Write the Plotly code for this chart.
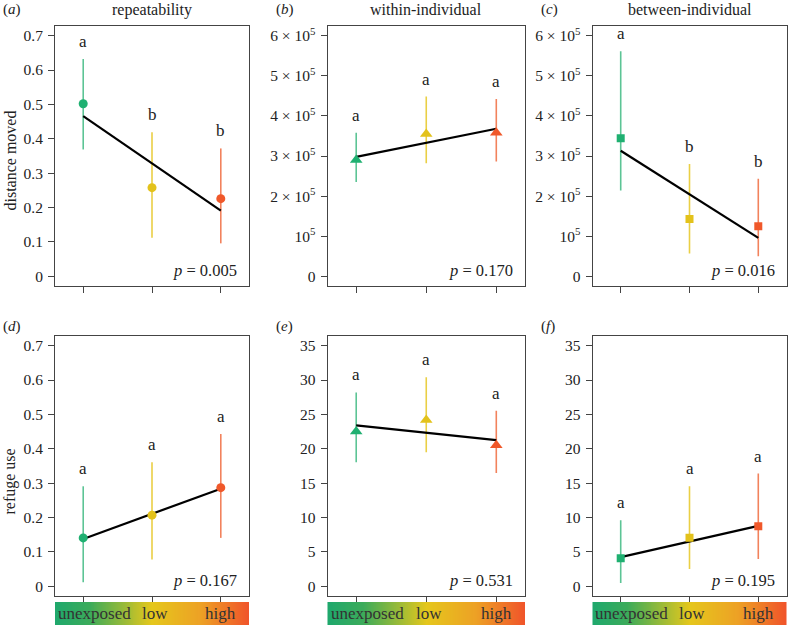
import plotly.graph_objects as go
import numpy as np

W, H = 791, 628

categories = ["unexposed", "low", "high"]
xpos = [1, 2, 3]
point_colors = ["#1fb071", "#e3c21b", "#f0582a"]
bar_colors = ["#5cc495", "#eacf45", "#f2825c"]

# panel (a) repeatability - distance moved
a_mean = [0.502, 0.258, 0.226]
a_lo = [0.369, 0.112, 0.096]
a_hi = [0.632, 0.419, 0.372]
a_fit = [0.466, 0.191]
a_letters = ["a", "b", "b"]
a_p = "0.005"

# panel (b) within-individual - distance moved
b_mean = [2.90e5, 3.55e5, 3.58e5]
b_lo = [2.35e5, 2.82e5, 2.86e5]
b_hi = [3.58e5, 4.48e5, 4.42e5]
b_fit = [2.98e5, 3.68e5]
b_letters = ["a", "a", "a"]
b_p = "0.170"

# panel (c) between-individual - distance moved
c_mean = [3.44e5, 1.43e5, 1.25e5]
c_lo = [2.14e5, 0.57e5, 0.50e5]
c_hi = [5.61e5, 2.80e5, 2.43e5]
c_fit = [3.13e5, 0.96e5]
c_letters = ["a", "b", "b"]
c_p = "0.016"

# panel (d) repeatability - refuge use
d_mean = [0.141, 0.207, 0.287]
d_lo = [0.012, 0.078, 0.141]
d_hi = [0.291, 0.361, 0.443]
d_fit = [0.138, 0.284]
d_letters = ["a", "a", "a"]
d_p = "0.167"

# panel (e) within-individual - refuge use
e_mean = [22.5, 24.2, 20.5]
e_lo = [18.05, 19.5, 16.5]
e_hi = [28.2, 30.4, 25.55]
e_fit = [23.4, 21.25]
e_letters = ["a", "a", "a"]
e_p = "0.531"

# panel (f) between-individual - refuge use
f_mean = [4.1, 7.08, 8.73]
f_lo = [0.48, 2.52, 3.97]
f_hi = [9.6, 14.54, 16.4]
f_fit = [4.26, 8.8]
f_letters = ["a", "a", "a"]
f_p = "0.195"

col_titles = ["repeatability", "within-individual", "between-individual"]
row_titles = ["distance moved", "refuge use"]
panel_labels = ["a", "b", "c", "d", "e", "f"]

rep_ticks = [0, 0.1, 0.2, 0.3, 0.4, 0.5, 0.6, 0.7]
rep_ticktext = ["0", "0.1", "0.2", "0.3", "0.4", "0.5", "0.6", "0.7"]
dist_ticks = [0, 1e5, 2e5, 3e5, 4e5, 5e5, 6e5]
dist_ticktext = ["0", "10<sup>5</sup>", "2 × 10<sup>5</sup>", "3 × 10<sup>5</sup>",
                 "4 × 10<sup>5</sup>", "5 × 10<sup>5</sup>", "6 × 10<sup>5</sup>"]
ref_ticks = [0, 5, 10, 15, 20, 25, 30, 35]
ref_ticktext = ["0", "5", "10", "15", "20", "25", "30", "35"]

FONT = "'Liberation Serif', 'Times New Roman', 'DejaVu Serif', serif"
TXT = "#222222"

panels = [
    (a_mean, a_lo, a_hi, a_fit, a_letters, a_p, "circle", 9, rep_ticks, rep_ticktext, 0.7),
    (b_mean, b_lo, b_hi, b_fit, b_letters, b_p, "triangle-up", 11, dist_ticks, dist_ticktext, 6e5),
    (c_mean, c_lo, c_hi, c_fit, c_letters, c_p, "square", 8, dist_ticks, dist_ticktext, 6e5),
    (d_mean, d_lo, d_hi, d_fit, d_letters, d_p, "circle", 9, rep_ticks, rep_ticktext, 0.7),
    (e_mean, e_lo, e_hi, e_fit, e_letters, e_p, "triangle-up", 11, ref_ticks, ref_ticktext, 35),
    (f_mean, f_lo, f_hi, f_fit, f_letters, f_p, "square", 8, ref_ticks, ref_ticktext, 35),
]

# pixel boxes (left, right) for columns, (top, bottom) for rows
col_px = [(55, 249), (327.5, 525), (592.5, 786.5)]
row_px = [(26, 286), (336, 596)]
cbar_px = (602, 625)
label_dy = [17, 10]
ytitle_center = [161, 482]

def px_x(p):
    return p / W

def px_y(p):
    return 1 - p / H

fig = go.Figure()
layout = {}
annotations = []

XR = [0.59, 3.41]

for i, (mean, lo, hi, fit, letters, pval, sym, msize, tv, tt, ymax) in enumerate(panels):
    r, c = divmod(i, 3)
    n = i + 1
    xa = "x" if n == 1 else f"x{n}"
    ya = "y" if n == 1 else f"y{n}"
    xkey = "xaxis" if n == 1 else f"xaxis{n}"
    ykey = "yaxis" if n == 1 else f"yaxis{n}"
    pad = ymax * 0.04
    layout[xkey] = dict(
        domain=[px_x(col_px[c][0]), px_x(col_px[c][1])], anchor=ya, range=XR,
        showgrid=False, zeroline=False, showline=True, mirror=True, linecolor="#444",
        linewidth=1, ticks="outside", ticklen=6, tickcolor="#444", tickvals=xpos,
        showticklabels=False, fixedrange=True)
    layout[ykey] = dict(
        domain=[px_y(row_px[r][1]), px_y(row_px[r][0])], anchor=xa, range=[-pad, ymax + pad],
        showgrid=False, zeroline=False, showline=True, mirror=True, linecolor="#444",
        linewidth=1, ticks="outside", ticklen=6, tickcolor="#444", tickvals=tv, ticktext=tt,
        tickfont=dict(family=FONT, size=15.5, color=TXT), ticklabelstandoff=2, fixedrange=True)

    # error bars
    for k in range(3):
        fig.add_trace(go.Scatter(x=[xpos[k], xpos[k]], y=[lo[k], hi[k]], mode="lines",
                                 line=dict(color=bar_colors[k], width=1.6),
                                 xaxis=xa, yaxis=ya, showlegend=False, hoverinfo="skip"))
    # fitted line
    fig.add_trace(go.Scatter(x=[xpos[0], xpos[2]], y=fit, mode="lines",
                             line=dict(color="black", width=2.2),
                             xaxis=xa, yaxis=ya, showlegend=False, hoverinfo="skip"))
    # points
    fig.add_trace(go.Scatter(x=xpos, y=mean, mode="markers",
                             marker=dict(color=point_colors, size=msize, symbol=sym, line=dict(width=0)),
                             xaxis=xa, yaxis=ya, showlegend=False))
    # letters
    for k in range(3):
        annotations.append(dict(x=xpos[k], y=hi[k], xref=xa, yref=ya, text=letters[k],
                                showarrow=False, yanchor="bottom", yshift=6,
                                font=dict(family=FONT, size=17, color=TXT)))
    # p value
    annotations.append(dict(x=XR[1], y=-pad, xref=xa, yref=ya, text=f"<i>p</i> = {pval}",
                            showarrow=False, xanchor="right", yanchor="bottom", xshift=-10, yshift=4,
                            font=dict(family=FONT, size=16.5, color=TXT)))
    # panel label
    annotations.append(dict(x=px_x(col_px[c][0] - 54), y=px_y(row_px[r][0] - label_dy[r]),
                            xref="paper", yref="paper", text=f"(<i>{panel_labels[i]}</i>)",
                            showarrow=False, xanchor="left", yanchor="middle",
                            font=dict(family=FONT, size=15, color=TXT)))
    if r == 0:
        annotations.append(dict(x=px_x((col_px[c][0] + col_px[c][1]) / 2), y=px_y(row_px[r][0] - 16),
                                xref="paper", yref="paper", text=col_titles[c], showarrow=False,
                                xanchor="center", yanchor="middle",
                                font=dict(family=FONT, size=16, color=TXT)))
    if c == 0:
        annotations.append(dict(x=px_x(9.5), y=px_y(ytitle_center[r]),
                                xref="paper", yref="paper", text=row_titles[r], showarrow=False,
                                textangle=-90, xanchor="center", yanchor="middle",
                                font=dict(family=FONT, size=16, color=TXT)))

# gradient colour bars under bottom row
grad_scale = [[0, "#1ea86d"], [0.18, "#3cab5a"], [0.5, "#e5c71c"], [0.75, "#eda125"], [1, "#f0532a"]]
label_x = [1.16, 2.04, 3.0]
for c in range(3):
    n = 7 + c
    xkey, ykey = f"xaxis{n}", f"yaxis{n}"
    layout[xkey] = dict(domain=[px_x(col_px[c][0]), px_x(col_px[c][1])], anchor=f"y{n}", range=XR,
                        visible=False, fixedrange=True)
    layout[ykey] = dict(domain=[px_y(cbar_px[1]), px_y(cbar_px[0])], anchor=f"x{n}", range=[0, 1],
                        visible=False, fixedrange=True)
    gx = np.linspace(XR[0], XR[1], 200)
    fig.add_trace(go.Heatmap(x=gx, y=[0, 1], z=[list(gx), list(gx)], colorscale=grad_scale,
                             showscale=False, xaxis=f"x{n}", yaxis=f"y{n}", hoverinfo="skip"))
    for k in range(3):
        annotations.append(dict(x=label_x[k], y=0.5, xref=f"x{n}", yref=f"y{n}", text=categories[k],
                                showarrow=False, font=dict(family=FONT, size=17, color="#333")))

fig.update_layout(**layout)
fig.update_layout(width=W, height=H, margin=dict(l=0, r=0, t=0, b=0),
                  paper_bgcolor="white", plot_bgcolor="white", annotations=annotations,
                  showlegend=False)

fig.write_html("out.html", config={"displayModeBar": False},
               post_script="document.body.style.margin='0';document.body.style.overflow='hidden';")
